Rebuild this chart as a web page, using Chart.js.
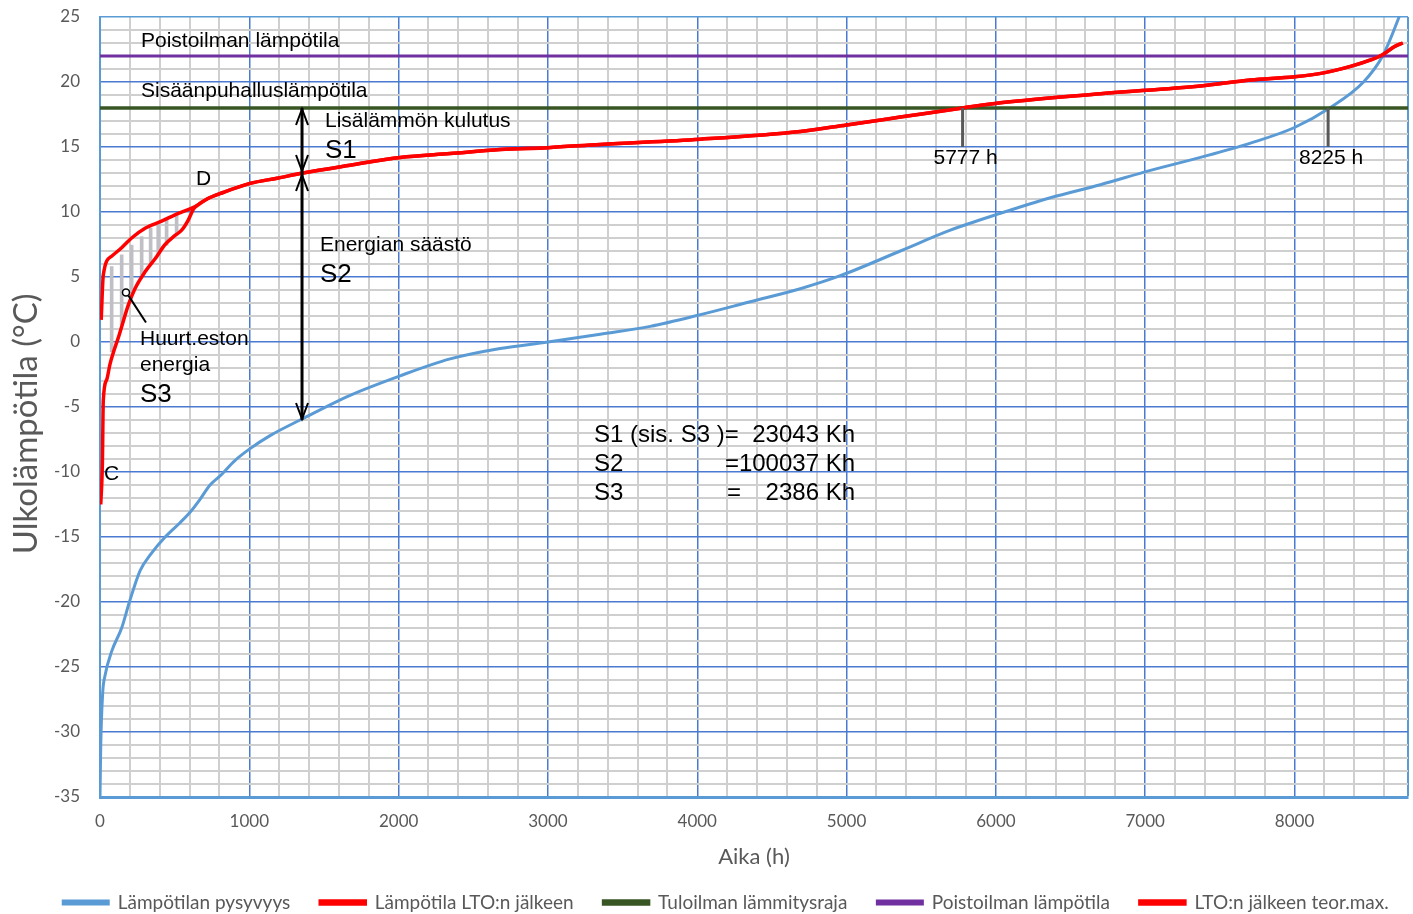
<!DOCTYPE html>
<html>
<head>
<meta charset="utf-8">
<title>Lämpötilan pysyvyys ja LTO</title>
<script src="https://cdn.jsdelivr.net/npm/chart.js@4.4.1/dist/chart.umd.min.js"></script>
<style>
  html, body { margin: 0; padding: 0; background: #ffffff; }
  #wrap { width: 1413px; height: 914px; }
</style>
</head>
<body>
<div id="wrap"><canvas id="chart" width="1413" height="914"></canvas></div>
<script>
// Ulkolämpötilan pysyvyyskäyrä (h, °C)
const durationHours = [0, 5, 18, 33, 78, 145, 197, 268, 335, 436, 536, 603, 670, 737, 804, 905, 1005, 1139, 1340, 1675, 2010, 2345, 2680, 3000, 3350, 3685, 4020, 4355, 4690, 4958, 5360, 5695, 6030, 6365, 6700, 7035, 7370, 7705, 8000, 8235, 8462, 8590, 8700, 8760];
const durationTemps = [-35, -31, -27, -25.7, -23.8, -22, -20, -17.6, -16.4, -15.0, -13.9, -13.1, -12.1, -11.0, -10.3, -9.1, -8.2, -7.2, -6.0, -4.1, -2.6, -1.3, -0.5, 0, 0.6, 1.2, 2.1, 3.1, 4.1, 5.1, 7.0, 8.6, 9.9, 11.1, 12.1, 13.2, 14.2, 15.3, 16.5, 18.0, 20.0, 22.0, 25.0, 27.0];

// Lämpötila LTO:n jälkeen (huurteenesto rajoittaa alkupäässä)
const afterHrHours = [5, 16, 22, 45, 67, 130, 190, 234, 302, 369, 436, 503, 547, 592, 625, 650, 717, 824, 1005, 1186, 1360, 1675, 2010, 2345, 2680, 3000, 3350, 4020, 4690, 5000, 5360, 5777, 6030, 6700, 7370, 7705, 8000, 8195, 8375, 8510, 8590, 8665, 8725];
const afterHrTemps = [-12.5, -9.3, -4.5, -2.9, -1.7, 0.6, 2.85, 4.1, 5.4, 6.4, 7.5, 8.2, 8.6, 9.4, 10.2, 10.5, 11.0, 11.5, 12.2, 12.6, 13.0, 13.6, 14.2, 14.5, 14.8, 14.95, 15.2, 15.6, 16.2, 16.7, 17.3, 18.0, 18.4, 19.1, 19.7, 20.15, 20.4, 20.7, 21.2, 21.7, 22.1, 22.7, 23.0];

// LTO:n jälkeen teoreettinen maksimi
const maxHours = [8, 22, 78, 145, 212, 302, 413, 525, 614, 650, 717, 824, 1005, 1186, 1360, 1675, 2010, 2345, 2680, 3000, 3350, 4020, 4690, 5000, 5360, 5777, 6030, 6700, 7370, 7705, 8000, 8195, 8375, 8510, 8590, 8665, 8725];
const maxTemps = [1.7, 5.15, 6.6, 7.25, 8.0, 8.75, 9.3, 9.9, 10.3, 10.5, 11.0, 11.5, 12.2, 12.6, 13.0, 13.6, 14.2, 14.5, 14.8, 14.95, 15.2, 15.6, 16.2, 16.7, 17.3, 18.0, 18.4, 19.1, 19.7, 20.15, 20.4, 20.7, 21.2, 21.7, 22.1, 22.7, 23.0];

// Vaakaviivat
const supplyLimitTemp = 18;   // Tuloilman lämmitysraja
const exhaustTemp = 22;       // Poistoilman lämpötila
const yearHours = [0, 8760];

// Huurteneston energia S3: viivoitus käyrien välissä
const hatchHours = [78, 145, 212, 279, 339, 390, 446, 513];
const hatchLow = [-0.75, 1.3, 3.6, 5.15, 6.05, 6.7, 7.45, 8.35];
const hatchHigh = [5.8, 6.7, 7.45, 8.1, 8.75, 9.05, 9.5, 9.8];

// Merkityt leikkauskohdat ja nuolen tasot
const crossingHours = [5777, 8225];
const crossingLabels = ['5777 h', '8225 h'];
const arrowHour = 1353;
const arrowLevels = [18, 13.0, -6.0];
const frostPointer = [[174, 3.8], [308, 1.5]];

// Akselit
const xMin = 0, xMax = 8760, xStep = 200, xMajor = 1000;
const yMin = -35, yMax = 25, yStep = 1, yMajor = 5;

const pts = (xs, ys) => xs.map((x, i) => ({ x: x, y: ys[i] }));
const flat = (xs, v) => xs.map(x => ({ x: x, y: v }));

const TICK_FONT = 'Lato';
const NOTE_FONT = '"Liberation Sans", Arial, sans-serif';
const MAJOR = '#4a7bd0';
const MINOR = '#cfcfcf';
const FRAME = '#5b9bd5';

// ruudukon viivat tasavälein min..max, lopuksi max
const stepTicks = (lo, hi, step) => {
  const out = [];
  for (let v = lo; v < hi - 1e-9; v += step) out.push({ value: v });
  out.push({ value: hi });
  return out;
};

const notes = {
  id: 'notes',
  afterLayout(chart) {
    // selite hieman alemmas ja oikealle
    const lg = chart.legend;
    if (lg) {
      lg.top += 8; lg.bottom += 8;
      lg.left += 22; lg.right += 22;
    }
  },
  beforeDraw(chart) {
    const c = chart.ctx;
    c.save();
    c.fillStyle = '#ffffff';
    c.fillRect(0, 0, chart.width, chart.height);
    c.restore();
  },
  afterDatasetsDraw(chart) {
    const c = chart.ctx;
    const xs = chart.scales.x, ys = chart.scales.y;
    c.save();
    // pystyviivat leikkauskohdista
    c.strokeStyle = '#595959';
    c.lineWidth = 3;
    crossingHours.forEach(h => {
      const px = xs.getPixelForValue(h);
      c.beginPath();
      c.moveTo(px, ys.getPixelForValue(supplyLimitTemp));
      c.lineTo(px, ys.getPixelForValue(supplyLimitTemp - 3));
      c.stroke();
    });
    // S1 / S2 nuolet
    const ax = xs.getPixelForValue(arrowHour);
    const [y0, y1, y2] = arrowLevels.map(v => ys.getPixelForValue(v));
    c.strokeStyle = '#000000';
    c.lineWidth = 3;
    c.beginPath();
    c.moveTo(ax, y0);
    c.lineTo(ax, y2);
    c.stroke();
    const head = (y, dir) => {
      c.beginPath();
      c.moveTo(ax - 6, y - dir * 16);
      c.lineTo(ax, y);
      c.lineTo(ax + 6, y - dir * 16);
      c.stroke();
    };
    c.lineWidth = 2;
    head(y0 + 1, -1);
    head(y1 - 2, 1);
    head(y1 + 2, -1);
    head(y2 - 1, 1);
    // huurteneston osoitin
    const p0 = frostPointer[0], p1 = frostPointer[1];
    const cx = xs.getPixelForValue(p0[0]), cy = ys.getPixelForValue(p0[1]);
    c.lineWidth = 2;
    c.beginPath();
    c.moveTo(cx + 2.5, cy + 3);
    c.lineTo(xs.getPixelForValue(p1[0]), ys.getPixelForValue(p1[1]));
    c.stroke();
    c.beginPath();
    c.arc(cx, cy, 3.5, 0, Math.PI * 2);
    c.fillStyle = '#ffffff';
    c.fill();
    c.lineWidth = 1.5;
    c.stroke();

    // tekstit
    const T = (s, x, y, size, align) => {
      c.font = size + 'px ' + NOTE_FONT;
      c.textAlign = align || 'left';
      c.textBaseline = 'middle';
      c.fillStyle = '#000000';
      c.fillText(s, x, y);
    };
    T('Poistoilman lämpötila', 141, 41, 21);
    T('Sisäänpuhalluslämpötila', 141, 91, 21);
    T('Lisälämmön kulutus', 325, 121, 21);
    T('S1', 325, 151, 26);
    T('D', 196, 179, 21);
    T('Energian säästö', 320, 245, 21);
    T('S2', 320, 275, 26);
    T('Huurt.eston', 140, 339, 21);
    T('energia', 140, 365, 21);
    T('S3', 140, 395, 26);
    T('C', 104, 474, 21);
    T('S1 (sis. S3 )=', 594, 435, 24);
    T('23043 Kh', 855, 435, 24, 'right');
    T('S2', 594, 464, 24);
    T('=100037 Kh', 855, 464, 24, 'right');
    T('S3', 594, 493, 24);
    T('=', 727, 493, 24);
    T('2386 Kh', 855, 493, 24, 'right');
    crossingHours.forEach((h, i) => T(crossingLabels[i], xs.getPixelForValue(h) + 3, 158, 21, 'center'));
    c.restore();
  }
};

const isMajor = (val, step) => Math.abs(val % step) < 1e-9;
const gridColor = (val, step, maxVal) => (val === maxVal ? FRAME : (isMajor(val, step) ? MAJOR : MINOR));

const lineSet = (label, data, color, width, order) => ({
  label: label,
  data: data,
  borderColor: color,
  backgroundColor: color,
  borderWidth: width,
  pointRadius: 0,
  cubicInterpolationMode: 'monotone',
  fill: false,
  order: order
});

new Chart(document.getElementById('chart'), {
  type: 'line',
  data: {
    datasets: [
      lineSet('Lämpötilan pysyvyys', pts(durationHours, durationTemps), '#5b9bd5', 3, 6),
      lineSet('Lämpötila LTO:n jälkeen', pts(afterHrHours, afterHrTemps), '#ff0000', 3.5, 5),
      lineSet('Tuloilman lämmitysraja', flat(yearHours, supplyLimitTemp), '#375623', 3.5, 4),
      lineSet('Poistoilman lämpötila', flat(yearHours, exhaustTemp), '#7030a0', 3, 3),
      lineSet('LTO:n jälkeen teor.max.', pts(maxHours, maxTemps), '#ff0000', 3.5, 2),
      {
        type: 'bar',
        label: 'S3',
        data: hatchHours.map((h, i) => ({ x: h, y: [hatchLow[i], hatchHigh[i]] })),
        backgroundColor: '#bfbfc5',
        borderWidth: 0,
        barThickness: 3,
        order: 10
      }
    ]
  },
  options: {
    responsive: false,
    animation: false,
    events: [],
    layout: { padding: { top: 17, right: 5, left: 0, bottom: 0 } },
    plugins: {
      tooltip: { enabled: false },
      title: { display: false },
      legend: {
        display: true,
        position: 'bottom',
        labels: {
          font: { family: TICK_FONT, size: 19 },
          color: '#595959',
          boxWidth: 45,
          boxHeight: 3,
          padding: 30,
          filter: item => item.datasetIndex < 5,
          sort: (a, b) => a.datasetIndex - b.datasetIndex
        }
      }
    },
    scales: {
      x: {
        type: 'linear',
        min: xMin,
        max: xMax,
        offset: false,
        afterBuildTicks: s => { s.ticks = stepTicks(xMin, xMax, xStep); },
        afterFit: s => { s.height = 58; s.paddingLeft = 0; s.paddingRight = 0; },
        ticks: {
          autoSkip: false,
          maxRotation: 0,
          padding: 14,
          color: '#595959',
          font: { family: TICK_FONT, size: 17 },
          callback: v => (isMajor(v, xMajor) ? String(v) : '')
        },
        grid: {
          offset: false,
          drawTicks: false,
          color: ctx => gridColor(ctx.tick.value, xMajor, xMax),
          lineWidth: ctx => (isMajor(ctx.tick.value, xMajor) ? 1.5 : 2)
        },
        border: { display: true, color: FRAME, width: 3 },
        title: {
          display: true,
          text: 'Aika (h)',
          color: '#595959',
          font: { family: TICK_FONT, size: 22 },
          padding: { top: 0, bottom: -15 }
        }
      },
      y: {
        min: yMin,
        max: yMax,
        afterBuildTicks: s => { s.ticks = stepTicks(yMin, yMax, yStep); },
        afterFit: s => { s.width = 100; s.paddingTop = 0; s.paddingBottom = 0; },
        ticks: {
          autoSkip: false,
          padding: 20,
          color: '#595959',
          font: { family: TICK_FONT, size: 17 },
          callback: v => (isMajor(v, yMajor) ? String(v) : '')
        },
        grid: {
          drawTicks: false,
          color: ctx => gridColor(ctx.tick.value, yMajor, yMax),
          lineWidth: ctx => (isMajor(ctx.tick.value, yMajor) ? 1.5 : 2)
        },
        border: { display: true, color: FRAME, width: 2 },
        title: {
          display: true,
          text: 'Ulkolämpötila (°C)    ',
          color: '#595959',
          font: { family: TICK_FONT, size: 33 },
          padding: { top: 7, bottom: 0 }
        }
      }
    }
  },
  plugins: [notes]
});
</script>
</body>
</html>
